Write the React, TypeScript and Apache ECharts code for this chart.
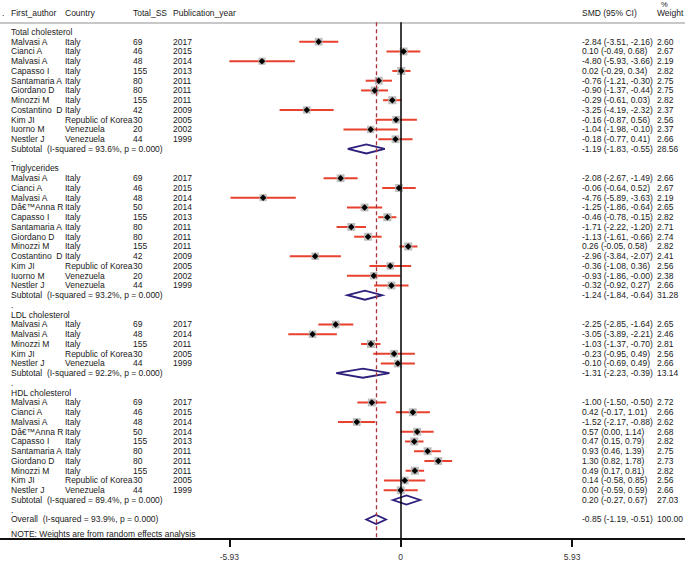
import React, { useEffect, useRef } from "react";
import * as echarts from "echarts";

// ---------------- DATA ----------------
const headerLeft = ["First_author", "Country", "Total_SS", "Publication_year"];
const headerRight = ["SMD (95% CI)", "Weight"];
const groupNames = ["Total cholesterol", "Triglycerides", "LDL cholesterol", "HDL cholesterol"];

const studyGroup = [
  0, 0, 0, 0, 0, 0, 0, 0, 0, 0, 0,
  1, 1, 1, 1, 1, 1, 1, 1, 1, 1, 1, 1,
  2, 2, 2, 2, 2,
  3, 3, 3, 3, 3, 3, 3, 3, 3, 3,
];
const authors = [
  "Malvasi A", "Cianci A", "Malvasi A", "Capasso I", "Santamaria A", "Giordano D", "Minozzi M", "Costantino  D", "Kim JI", "Iuorno M", "Nestler J",
  "Malvasi A", "Cianci A", "Malvasi A", "D\u00e2\u20ac\u2122Anna R", "Capasso I", "Santamaria A", "Giordano D", "Minozzi M", "Costantino  D", "Kim JI", "Iuorno M", "Nestler J",
  "Malvasi A", "Malvasi A", "Minozzi M", "Kim JI", "Nestler J",
  "Malvasi A", "Cianci A", "Malvasi A", "D\u00e2\u20ac\u2122Anna R", "Capasso I", "Santamaria A", "Giordano D", "Minozzi M", "Kim JI", "Nestler J",
];
const countries = [
  "Italy", "Italy", "Italy", "Italy", "Italy", "Italy", "Italy", "Italy", "Republic of Korea", "Venezuela", "Venezuela",
  "Italy", "Italy", "Italy", "Italy", "Italy", "Italy", "Italy", "Italy", "Italy", "Republic of Korea", "Venezuela", "Venezuela",
  "Italy", "Italy", "Italy", "Republic of Korea", "Venezuela",
  "Italy", "Italy", "Italy", "Italy", "Italy", "Italy", "Italy", "Italy", "Republic of Korea", "Venezuela",
];
const sampleSizes = [
  69, 46, 48, 155, 80, 80, 155, 42, 30, 20, 44,
  69, 46, 48, 50, 155, 80, 80, 155, 42, 30, 20, 44,
  69, 48, 155, 30, 44,
  69, 46, 48, 50, 155, 80, 80, 155, 30, 44,
];
const years = [
  2017, 2015, 2014, 2013, 2011, 2011, 2011, 2009, 2005, 2002, 1999,
  2017, 2015, 2014, 2014, 2013, 2011, 2011, 2011, 2009, 2005, 2002, 1999,
  2017, 2014, 2011, 2005, 1999,
  2017, 2015, 2014, 2014, 2013, 2011, 2011, 2011, 2005, 1999,
];
const smd = [
  -2.84, 0.10, -4.80, 0.02, -0.76, -0.90, -0.29, -3.25, -0.16, -1.04, -0.18,
  -2.08, -0.06, -4.76, -1.25, -0.46, -1.71, -1.13, 0.26, -2.96, -0.36, -0.93, -0.32,
  -2.25, -3.05, -1.03, -0.23, -0.10,
  -1.00, 0.42, -1.52, 0.57, 0.47, 0.93, 1.30, 0.49, 0.14, 0.00,
];
const ciLow = [
  -3.51, -0.49, -5.93, -0.29, -1.21, -1.37, -0.61, -4.19, -0.87, -1.98, -0.77,
  -2.67, -0.64, -5.89, -1.86, -0.78, -2.22, -1.61, -0.05, -3.84, -1.08, -1.86, -0.92,
  -2.85, -3.89, -1.37, -0.95, -0.69,
  -1.50, -0.17, -2.17, 0.00, 0.15, 0.46, 0.82, 0.17, -0.58, -0.59,
];
const ciHigh = [
  -2.16, 0.68, -3.66, 0.34, -0.30, -0.44, 0.03, -2.32, 0.56, -0.10, 0.41,
  -1.49, 0.52, -3.63, -0.64, -0.15, -1.20, -0.66, 0.58, -2.07, 0.36, -0.004, 0.27,
  -1.64, -2.21, -0.70, 0.49, 0.49,
  -0.50, 1.01, -0.88, 1.14, 0.79, 1.39, 1.78, 0.81, 0.85, 0.59,
];
const weights = [
  2.60, 2.67, 2.19, 2.82, 2.75, 2.75, 2.82, 2.37, 2.56, 2.37, 2.66,
  2.66, 2.67, 2.19, 2.65, 2.82, 2.71, 2.74, 2.82, 2.41, 2.56, 2.38, 2.66,
  2.65, 2.46, 2.81, 2.56, 2.66,
  2.72, 2.66, 2.62, 2.68, 2.82, 2.75, 2.73, 2.82, 2.56, 2.66,
];

const subtotalLabels = [
  "Subtotal  (I-squared = 93.6%, p = 0.000)",
  "Subtotal  (I-squared = 93.2%, p = 0.000)",
  "Subtotal  (I-squared = 92.2%, p = 0.000)",
  "Subtotal  (I-squared = 89.4%, p = 0.000)",
];
const subtotalSmd = [-1.19, -1.24, -1.31, 0.20];
const subtotalLow = [-1.83, -1.84, -2.23, -0.27];
const subtotalHigh = [-0.55, -0.64, -0.39, 0.67];
const subtotalWeight = [28.56, 31.28, 13.14, 27.03];

const overallLabel = "Overall  (I-squared = 93.9%, p = 0.000)";
const overallSmd = -0.85;
const overallLow = -1.19;
const overallHigh = -0.51;
const overallWeight = 100.0;

const noteText = "NOTE: Weights are from random effects analysis";

const tickValues = [-5.93, 0, 5.93];
const tickLabels = ["-5.93", "0", "5.93"];

// ---------------- LAYOUT ----------------
const W = 685;
const H = 561;
const FONT = '"Liberation Sans", Arial, Helvetica, sans-serif';
const FS = 8.5;
const TXT = "#1a1a1a";
const colLeft = [11, 65, 133, 173];
const colRight = [582, 657];

const fmt = (v: number) => v.toFixed(2);
const ciText = (m: number, l: number, h: number) => `${fmt(m)} (${fmt(l)}, ${fmt(h)})`;

type Cell = { x: number; text: string };
type TableRow = { row: number; cells: Cell[] };

function buildRows() {
  const table: TableRow[] = [];
  const studies: number[][] = [];
  const diamonds: number[][] = [];
  let row = 1;
  groupNames.forEach((g, gi) => {
    table.push({ row, cells: [{ x: colLeft[0], text: g }] });
    row++;
    studyGroup.forEach((sg, i) => {
      if (sg !== gi) return;
      table.push({
        row,
        cells: [
          { x: colLeft[0], text: authors[i] },
          { x: colLeft[1], text: countries[i] },
          { x: colLeft[2], text: String(sampleSizes[i]) },
          { x: colLeft[3], text: String(years[i]) },
          { x: colRight[0], text: ciText(smd[i], ciLow[i], ciHigh[i]) },
          { x: colRight[1], text: fmt(weights[i]) },
        ],
      });
      studies.push([smd[i], row, ciLow[i], ciHigh[i], weights[i]]);
      row++;
    });
    table.push({
      row,
      cells: [
        { x: colLeft[0], text: subtotalLabels[gi] },
        { x: colRight[0], text: ciText(subtotalSmd[gi], subtotalLow[gi], subtotalHigh[gi]) },
        { x: colRight[1], text: fmt(subtotalWeight[gi]) },
      ],
    });
    diamonds.push([subtotalSmd[gi], row, subtotalLow[gi], subtotalHigh[gi]]);
    row++;
    table.push({ row, cells: [{ x: colLeft[0], text: "." }] });
    row++;
  });
  table.push({
    row,
    cells: [
      { x: colLeft[0], text: overallLabel },
      { x: colRight[0], text: ciText(overallSmd, overallLow, overallHigh) },
      { x: colRight[1], text: fmt(overallWeight) },
    ],
  });
  diamonds.push([overallSmd, row, overallLow, overallHigh]);
  table.push({ row: row + 1.44, cells: [{ x: colLeft[0], text: noteText }] });
  return { table, studies, diamonds };
}

export default function App() {
  const ref = useRef<HTMLDivElement>(null);
  useEffect(() => {
    if (!ref.current) return;
    const chart = echarts.init(ref.current, undefined, { renderer: "svg" });
    const { table, studies, diamonds } = buildRows();

    const txt = (x: number, y: number, text: string) => ({
      type: "text",
      style: { text, x, y, fill: TXT, fontSize: FS, fontFamily: FONT, verticalAlign: "middle", align: "left" },
    });

    const option: any = {
      animation: false,
      backgroundColor: "#ffffff",
      grid: { left: 0, right: 0, top: 22.2, bottom: H - 540.5 },
      xAxis: {
        type: "value",
        min: -13.865,
        max: 9.837,
        splitLine: { show: false },
        axisLine: { show: true, onZero: false, lineStyle: { color: "#111", width: 2 } },
        axisTick: { show: true, customValues: tickValues, length: 8, lineStyle: { color: "#111", width: 2 } },
        axisLabel: {
          show: true,
          customValues: tickValues,
          margin: 13,
          color: "#333",
          fontSize: FS,
          fontFamily: FONT,
          formatter: (v: number) => tickLabels[tickValues.indexOf(v)] ?? String(v),
        },
      },
      yAxis: { type: "value", inverse: true, min: 0, max: 53, show: false },
      graphic: [
        { type: "line", shape: { x1: 0, y1: 23, x2: W, y2: 23 }, style: { stroke: "#c8c8c8", lineWidth: 2 } },
        { type: "text", style: { text: ".", x: 2, y: 13, fill: TXT, fontSize: FS, fontFamily: FONT, verticalAlign: "middle" } },
        ...headerLeft.map((h, i) => ({
          type: "text",
          style: { text: h, x: colLeft[i], y: 13, fill: TXT, fontSize: FS, fontFamily: FONT, verticalAlign: "middle" },
        })),
        ...headerRight.map((h, i) => ({
          type: "text",
          style: { text: h, x: colRight[i], y: 13, fill: TXT, fontSize: FS, fontFamily: FONT, verticalAlign: "middle" },
        })),
        { type: "text", style: { text: "%", x: 661, y: 4, fill: TXT, fontSize: FS - 1, fontFamily: FONT, verticalAlign: "middle" } },
      ],
      series: [
        {
          type: "line",
          data: [],
          silent: true,
          z: 1,
          markLine: {
            silent: true,
            symbol: "none",
            label: { show: false },
            data: [
              { xAxis: 0, lineStyle: { color: "#000", type: "solid", width: 1.5 } },
              { xAxis: overallSmd, lineStyle: { color: "#a8343c", type: [4, 3], width: 1.3 } },
            ],
          },
        },
        {
          type: "custom",
          clip: false,
          z: 3,
          silent: true,
          data: studies,
          encode: { x: 0, y: 1 },
          renderItem: (params: any, api: any) => {
            const y = api.value(1);
            const c = api.coord([api.value(0), y]);
            const l = api.coord([api.value(2), y]);
            const h = api.coord([api.value(3), y]);
            const side = 4.8 * Math.sqrt(api.value(4));
            const d = 3.3;
            return {
              type: "group",
              children: [
                { type: "line", shape: { x1: l[0], y1: c[1], x2: h[0], y2: c[1] }, style: { stroke: "#e8412e", lineWidth: 2 } },
                { type: "rect", shape: { x: c[0] - side / 2, y: c[1] - side / 2, width: side, height: side }, style: { fill: "#bdbdbd" } },
                {
                  type: "polygon",
                  shape: { points: [[c[0] - d, c[1]], [c[0], c[1] - d], [c[0] + d, c[1]], [c[0], c[1] + d]] },
                  style: { fill: "#000" },
                },
              ],
            };
          },
        },
        {
          type: "custom",
          clip: false,
          z: 3,
          silent: true,
          data: diamonds,
          encode: { x: 0, y: 1 },
          renderItem: (params: any, api: any) => {
            const y = api.value(1);
            const c = api.coord([api.value(0), y]);
            const l = api.coord([api.value(2), y]);
            const h = api.coord([api.value(3), y]);
            const hh = 4.5;
            return {
              type: "polygon",
              shape: { points: [[l[0], c[1]], [c[0], c[1] - hh], [h[0], c[1]], [c[0], c[1] + hh]] },
              style: { fill: "none", stroke: "#2d1f7c", lineWidth: 1.8 },
            };
          },
        },
        {
          type: "custom",
          clip: false,
          z: 4,
          silent: true,
          data: table.map((r) => [0, r.row]),
          encode: { x: 0, y: 1 },
          renderItem: (params: any, api: any) => {
            const r = table[params.dataIndex];
            const y = api.coord([0, r.row])[1];
            return { type: "group", children: r.cells.map((c) => txt(c.x, y, c.text)) };
          },
        },
      ],
    };
    chart.setOption(option);
    return () => chart.dispose();
  }, []);
  return <div ref={ref} style={{ position: "fixed", left: 0, top: 0, width: W, height: H }} />;
}
